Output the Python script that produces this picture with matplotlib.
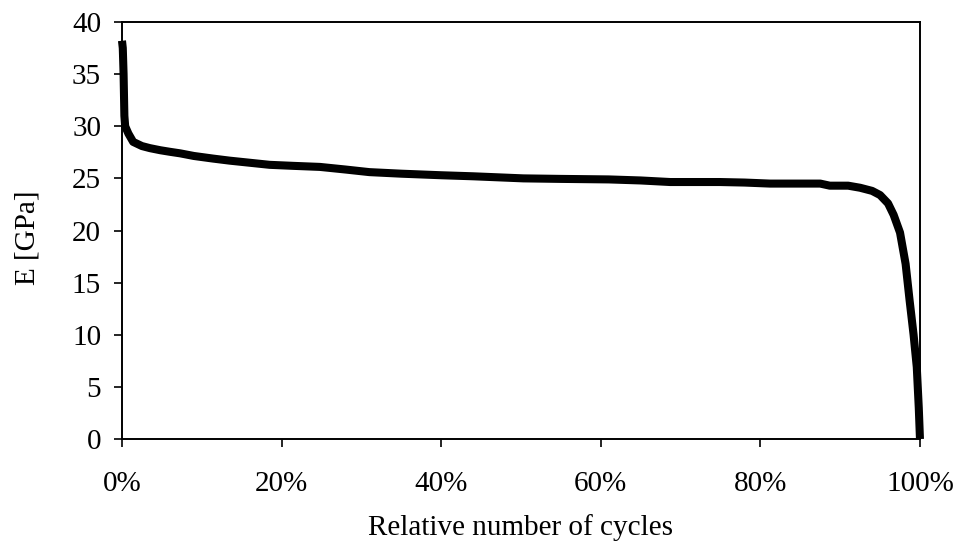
import matplotlib
matplotlib.use("Agg")
import matplotlib.pyplot as plt
from matplotlib.ticker import FuncFormatter

# Relative number of cycles [%] and modulus E [GPa]
cycles_pct = [0.0, 0.1, 0.2, 0.3, 0.4, 0.8, 1.4, 2.5, 3.5, 4.8, 6.0, 7.3, 9.0,
              11.4, 13.5, 16.0, 18.5, 21.5, 24.8, 28.0, 31.0, 35.0, 40.0, 44.0,
              50.3, 55.0, 61.0, 65.0, 68.7, 74.9, 78.0, 81.2, 87.5, 88.7, 91.0,
              92.5, 94.0, 95.0, 96.0, 96.7, 97.5, 98.2, 98.7, 99.2, 99.6, 99.85, 100.0]
modulus_gpa = [38.2, 37.5, 35.0, 31.0, 30.0, 29.3, 28.5, 28.1, 27.9, 27.7, 27.55, 27.4, 27.15,
               26.9, 26.7, 26.5, 26.3, 26.2, 26.1, 25.85, 25.6, 25.45, 25.3, 25.2,
               25.0, 24.95, 24.9, 24.8, 24.65, 24.65, 24.6, 24.5, 24.5, 24.3, 24.3,
               24.1, 23.8, 23.4, 22.6, 21.5, 19.8, 16.8, 13.3, 10.0, 6.9, 3.0, 0.0]

x_ticks = [0, 20, 40, 60, 80, 100]
y_ticks = [0, 5, 10, 15, 20, 25, 30, 35, 40]

plt.rcParams['font.family'] = ['Liberation Serif', 'DejaVu Serif']

fig = plt.figure(figsize=(9.59, 5.47), dpi=100)
ax = fig.add_axes([0.1272, 0.1974, 0.8321, 0.7624])

ax.plot(cycles_pct, modulus_gpa, color='black', linewidth=5.8,
        solid_joinstyle='round', solid_capstyle='butt', clip_on=False)

ax.set_xlim(0, 100)
ax.set_ylim(0, 40)
ax.set_xticks(x_ticks)
ax.set_yticks(y_ticks)
ax.xaxis.set_major_formatter(FuncFormatter(lambda v, p: f"{int(v)}%"))
ax.tick_params(axis='both', direction='out', length=6, width=1.2,
               labelsize=21, colors='black')
ax.tick_params(axis='x', pad=17)
ax.tick_params(axis='y', pad=9)
for s in ax.spines.values():
    s.set_linewidth(1.4)
    s.set_color('black')

ax.set_xlabel("Relative number of cycles", fontsize=21, va='center')
ax.xaxis.set_label_coords(0.5, -0.212)
ax.set_ylabel("E [GPa]", fontsize=21, va='center')
ax.yaxis.set_label_coords(-0.119, 0.482)

fig.savefig("out.png", dpi=100)
